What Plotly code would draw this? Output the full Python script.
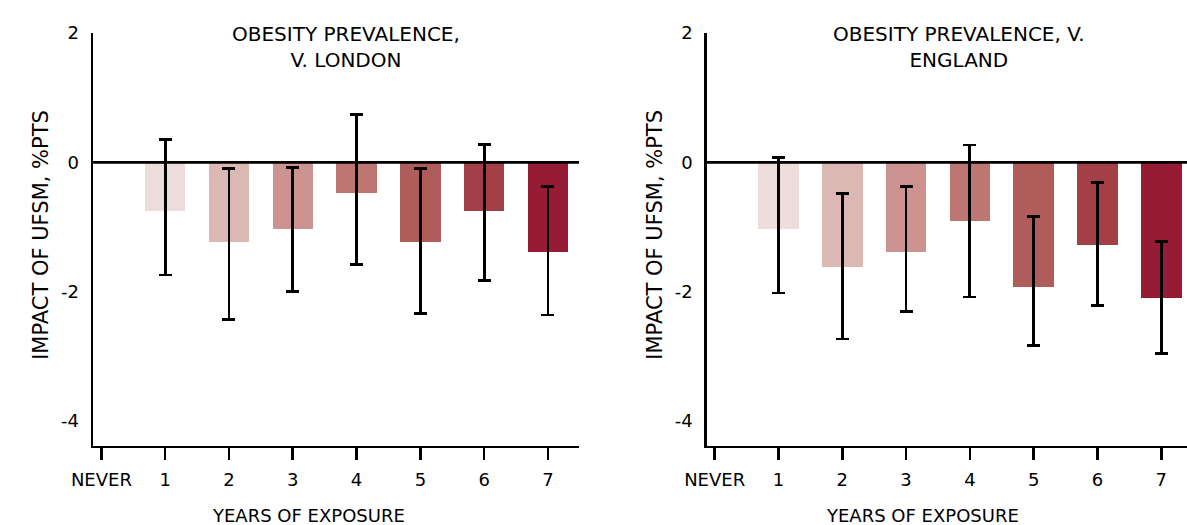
import plotly.graph_objects as go

# ---- data ----
categories = ["NEVER", "1", "2", "3", "4", "5", "6", "7"]
years = [1, 2, 3, 4, 5, 6, 7]

london_values = [-0.75, -1.23, -1.03, -0.47, -1.23, -0.75, -1.38]
london_err_top = [0.36, -0.09, -0.08, 0.74, -0.10, 0.28, -0.37]
london_err_bottom = [-1.74, -2.43, -2.00, -1.58, -2.34, -1.82, -2.36]

england_values = [-1.03, -1.62, -1.38, -0.91, -1.92, -1.27, -2.10]
england_err_top = [0.08, -0.48, -0.37, 0.27, -0.84, -0.31, -1.22]
england_err_bottom = [-2.02, -2.73, -2.31, -2.08, -2.83, -2.21, -2.95]

bar_colors = ["#ecdcdb", "#dcb8b5", "#cc9390", "#bd7672",
              "#b05c5a", "#a33f47", "#961b34"]

titles = ["OBESITY PREVALENCE,<br>V. LONDON", "OBESITY PREVALENCE, V.<br>ENGLAND"]
y_title = "IMPACT OF UFSM, %PTS"
x_title = "YEARS OF EXPOSURE"
y_ticks = [2, 0, -2, -4]
y_tick_labels = ["2", "0", "-2", "-4"]

FONT = "Humor Sans, DejaVu Sans, sans-serif"
W, H = 1187, 525

fig = go.Figure()

def add_panel(values, top, bottom, xa, ya):
    plus = [t - v for t, v in zip(top, values)]
    minus = [v - b for v, b in zip(values, bottom)]
    fig.add_trace(go.Bar(
        x=years, y=values, width=0.635,
        marker=dict(color=bar_colors, line=dict(width=0)),
        error_y=dict(type="data", symmetric=False, array=plus, arrayminus=minus,
                     color="black", thickness=2.8, width=6.5),
        xaxis=xa, yaxis=ya, showlegend=False, hoverinfo="skip",
    ))

add_panel(london_values, london_err_top, london_err_bottom, "x", "y")
add_panel(england_values, england_err_top, england_err_bottom, "x2", "y2")

ydom = [(H - 444) / H, (H - 22.5) / H]
common_x = dict(
    tickmode="array", tickvals=list(range(len(categories))), ticktext=categories,
    showline=True, linecolor="black", linewidth=2.6, ticks="outside", ticklen=12,
    tickwidth=2.6, tickcolor="black", showgrid=False, zeroline=False,
    tickfont=dict(family=FONT, size=18, color="black"), fixedrange=True,
    ticklabelstandoff=4,
)
common_y = dict(
    range=[-4.38, 2.0], tickmode="array", tickvals=y_ticks, ticktext=y_tick_labels,
    showline=True, linecolor="black", linewidth=2.6, ticks="", showgrid=False,
    zeroline=False, tickfont=dict(family=FONT, size=18, color="black"),
    domain=ydom, ticklabelstandoff=8, fixedrange=True,
)

fig.update_layout(
    width=W, height=H,
    margin=dict(l=0, r=0, t=0, b=0),
    paper_bgcolor="white", plot_bgcolor="white",
    font=dict(family=FONT, color="black"),
    xaxis=dict(common_x, domain=[71.5 / W, 567 / W], range=[-0.13, 7.487], anchor="y"),
    yaxis=dict(common_y, anchor="x"),
    xaxis2=dict(common_x, domain=[697.5 / W, 1.0], range=[-0.12, 7.403], anchor="y2"),
    yaxis2=dict(common_y, anchor="x2"),
    bargap=0,
)

# zero lines
for xr, yr in (("x domain", "y"), ("x2 domain", "y2")):
    fig.add_shape(type="line", xref=xr, yref=yr, x0=0, x1=1, y0=0, y1=0,
                  line=dict(color="black", width=2.6), layer="above")

# titles
for xc, t in ((329, titles[0]), (955, titles[1])):
    fig.add_annotation(xref="paper", yref="paper", x=xc / W, y=(H - 37) / H,
                       text=t, showarrow=False, xanchor="center", yanchor="middle",
                       font=dict(family=FONT, size=20, color="black"))
# x titles
for xc in (291, 917):
    fig.add_annotation(xref="paper", yref="paper", x=xc / W, y=(H - 515) / H,
                       text=x_title, showarrow=False, xanchor="center", yanchor="middle",
                       font=dict(family=FONT, size=18, color="black"))
# y titles
for xc in (19, 645):
    fig.add_annotation(xref="paper", yref="paper", x=xc / W, y=(H - 229) / H,
                       text=y_title, showarrow=False, textangle=-90,
                       xanchor="center", yanchor="middle",
                       font=dict(family=FONT, size=21, color="black"))

fig.write_html(
    "out.html",
    config={"displayModeBar": False, "staticPlot": True},
    post_script="document.body.style.margin='0';document.body.style.overflow='hidden';",
)
